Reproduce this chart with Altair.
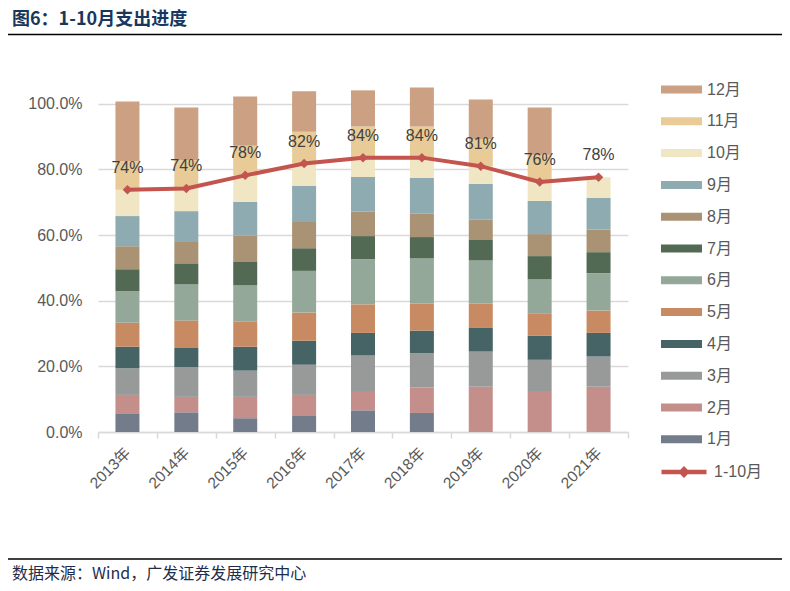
import altair as alt
import pandas as pd

years = ["2013年", "2014年", "2015年", "2016年", "2017年", "2018年", "2019年", "2020年", "2021年"]
months = ["1月", "2月", "3月", "4月", "5月", "6月", "7月", "8月", "9月", "10月", "11月", "12月"]
month_colors = ["#737C8B", "#C48F8A", "#979A98", "#466465", "#C88A62", "#93A898",
                "#526A53", "#AA9274", "#8DABB0", "#F1E6C3", "#E8CB97", "#CBA083"]

# cumulative spending progress (% of annual budget) at the end of each month
cum_2013 = [5.7, 11.3, 19.4, 26.0, 33.3, 42.9, 49.6, 56.6, 65.8, 73.8, 82.6, 100.7]
cum_2014 = [6.0, 10.7, 19.7, 25.6, 34.0, 45.0, 51.4, 57.9, 67.3, 74.2, 82.9, 98.9]
cum_2015 = [4.2, 10.7, 18.7, 26.0, 33.6, 44.7, 52.0, 59.8, 70.1, 78.2, 87.2, 102.2]
cum_2016 = [5.1, 11.3, 20.5, 27.8, 36.4, 49.1, 56.0, 64.0, 75.0, 81.8, 91.5, 103.8]
cum_2017 = [6.6, 12.2, 23.3, 30.2, 38.9, 52.6, 59.7, 67.2, 77.7, 83.6, 93.1, 104.1]
cum_2018 = [5.8, 13.6, 24.0, 30.9, 39.2, 53.0, 59.4, 66.6, 77.4, 83.6, 93.1, 105.0]
cum_2019 = [None, 13.8, 24.5, 31.7, 39.2, 52.3, 58.5, 64.8, 75.6, 81.0, 89.1, 101.3]
cum_2020 = [None, 12.5, 22.0, 29.3, 36.0, 46.5, 53.6, 60.3, 70.4, 76.2, 84.5, 98.9]
cum_2021 = [None, 13.8, 23.0, 30.2, 37.0, 48.4, 54.8, 61.7, 71.3, 77.6, None, None]

# 1-10月 progress
line_name = "1-10月"
line_vals = [73.8, 74.2, 78.2, 81.8, 83.6, 83.6, 81.0, 76.2, 77.6]

title_text = "图6：1-10月支出进度"
source_text = "数据来源：Wind，广发证券发展研究中心"

all_cum = [cum_2013, cum_2014, cum_2015, cum_2016, cum_2017, cum_2018, cum_2019, cum_2020, cum_2021]
rows = []
for yr, series in zip(years, all_cum):
    prev = 0.0
    for mi, (m, v) in enumerate(zip(months, series)):
        if v is None:
            continue
        rows.append({"year": yr, "month": m, "mi": mi, "start": prev / 100, "end": v / 100})
        prev = v
bar_df = pd.DataFrame(rows)
line_df = pd.DataFrame({"year": years, "val": [v / 100 for v in line_vals], "series": line_name})

FONT = "Liberation Sans, Noto Sans CJK SC, sans-serif"
CJK = "Noto Sans CJK SC, Liberation Sans, sans-serif"
RED = "#C3544E"

xenc = alt.X("year:N", sort=years, title=None,
             scale=alt.Scale(paddingInner=0, paddingOuter=0),
             axis=alt.Axis(labelAngle=-45, labelAlign="right", labelBaseline="middle",
                           labelFontSize=15.5, labelColor="#595959", labelFont=FONT,
                           domainColor="#D9D9D9", domainWidth=1.5, tickColor="#D9D9D9", tickWidth=1.5,
                           tickSize=6, tickBand="extent", labelPadding=12, grid=False))

bars = alt.Chart(bar_df).mark_bar(size=24).encode(
    x=xenc,
    y=alt.Y("end:Q", title=None, scale=alt.Scale(domain=[0, 1.1], nice=False),
            axis=alt.Axis(values=[0, 0.2, 0.4, 0.6, 0.8, 1.0], format=".1%", labelFontSize=16,
                          labelColor="#595959", labelFont=FONT, grid=True, gridColor="#D9D9D9",
                          gridWidth=1.3, domain=False, ticks=False, labelPadding=16)),
    y2="start:Q",
    color=alt.Color("month:N",
                    scale=alt.Scale(domain=months[::-1], range=month_colors[::-1]),
                    legend=alt.Legend(title=None, orient="none", legendX=563, legendY=-2,
                                      symbolType="M-1,-0.195H1V0.195H-1Z", symbolSize=1681,
                                      symbolStrokeWidth=0, labelFontSize=16, labelColor="#595959",
                                      labelFont=FONT, rowPadding=2.8, labelOffset=5)),
)

line = alt.Chart(line_df).mark_line(strokeWidth=4).encode(
    x=alt.X("year:N", sort=years),
    y="val:Q",
    stroke=alt.Stroke("series:N", scale=alt.Scale(domain=[line_name], range=[RED]),
                      legend=alt.Legend(title=None, orient="none", legendX=561, legendY=376,
                                        symbolType="M-1,0H1M-0.12,0L0,-0.12L0.12,0L0,0.12Z",
                                        symbolSize=2025, symbolStrokeWidth=4.5,
                                        labelFontSize=16, labelColor="#595959", labelFont=FONT,
                                        labelOffset=5)),
)
pts = alt.Chart(line_df).mark_point(shape="diamond", filled=True, size=90, color=RED, opacity=1).encode(
    x=alt.X("year:N", sort=years), y="val:Q")
labels = alt.Chart(line_df).mark_text(dy=-22, fontSize=16, color="#404040", font=FONT).encode(
    x=alt.X("year:N", sort=years), y="val:Q", text=alt.Text("val:Q", format=".0%"))

title_df = pd.DataFrame({"t": [title_text]})
src_df = pd.DataFrame({"t": [source_text]})
title = alt.Chart(title_df).mark_text(align="left", baseline="middle", fontSize=18, fontWeight="bold",
                                      color="#17375E", font=CJK).encode(
    text="t:N", x=alt.value(-86), y=alt.value(-51))
source = alt.Chart(src_df).mark_text(align="left", baseline="middle", fontSize=16,
                                     color="#1F2D4D", font=CJK).encode(
    text="t:N", x=alt.value(-86), y=alt.value(503))
rule_top = alt.Chart(title_df).mark_rule(color="black", strokeWidth=1.5).encode(
    x=alt.value(-98), x2=alt.value(700), y=alt.value(-36.5))
rule_bot = alt.Chart(src_df).mark_rule(color="black", strokeWidth=1.5).encode(
    x=alt.value(-98), x2=alt.value(700), y=alt.value(488))

chart = alt.layer(bars, line, pts, labels, title, source, rule_top, rule_bot).resolve_scale(
    color="independent"
).properties(
    width=530, height=361,
    autosize=alt.AutoSizeParams(type="none"),
    padding={"left": 90, "top": 63, "right": 154, "bottom": 151},
).configure_view(stroke=None)

chart.save("out.html", embed_options={"renderer": "svg", "actions": False})
